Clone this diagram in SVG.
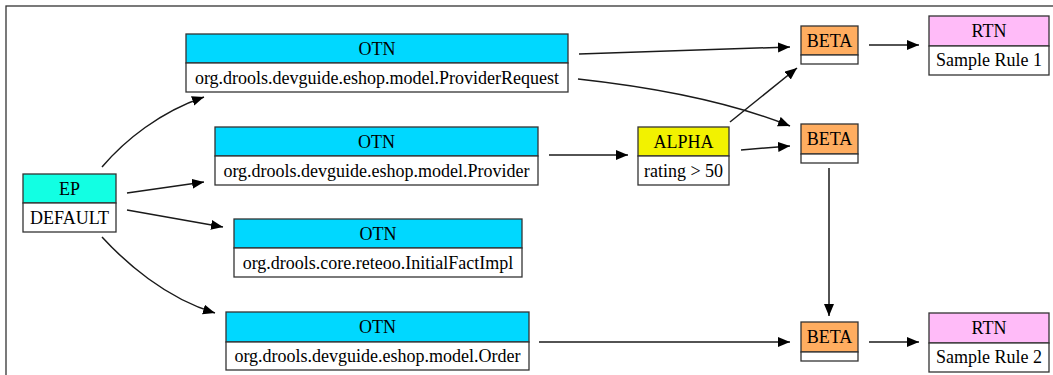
<svg xmlns="http://www.w3.org/2000/svg" width="1053" height="375" viewBox="0 0 1053 375">
<defs>
<marker id="arr" markerUnits="userSpaceOnUse" markerWidth="13" markerHeight="11" refX="12" refY="5" orient="auto">
<path d="M0,0 L12,5 L0,10 z" fill="#000"/>
</marker>
<style>
.box{stroke:#333;stroke-width:1.3}
.low{fill:#fff}
.otn{fill:#00d8ff}
.ep{fill:#12ffe3}
.al{fill:#f2f200}
.be{fill:#ffad60}
.rt{fill:#ffbbf8}
text{font-family:'Liberation Serif','Times New Roman',serif;font-size:18px;fill:#000;text-anchor:middle}
.e{fill:none;stroke:#1a1a1a;stroke-width:1.5;marker-end:url(#arr)}
</style>
</defs>
<rect width="1053" height="375" fill="#fff"/>
<rect x="6" y="6" width="1100" height="420" fill="none" stroke="#333" stroke-width="1.3"/>

<g id="connectors">
<path class="e" d="M102,167 C125,140 160,112 204,97"/>
<path class="e" d="M127,193 L204,182"/>
<path class="e" d="M127,210 L223,227"/>
<path class="e" d="M102,237 C125,262 165,298 215,313"/>
<path class="e" d="M579,54 L790,47"/>
<path class="e" d="M578,79 C660,88 730,102 790,126"/>
<path class="e" d="M549,155 L628,155"/>
<path class="e" d="M730,122 L797,68"/>
<path class="e" d="M741,150 L790,146"/>
<path class="e" d="M869,45 L919,45"/>
<path class="e" d="M829,168 L829,316"/>
<path class="e" d="M539,342 L790,342"/>
<path class="e" d="M869,342 L919,342"/>
</g>

<g id="ep">
<rect class="box ep" x="23" y="174" width="93" height="29"/>
<rect class="box low" x="23" y="203" width="93" height="29"/>
<text x="69.5" y="195">EP</text>
<text x="69.5" y="224">DEFAULT</text>
</g>

<g id="otn1">
<rect class="box otn" x="186" y="34" width="382" height="29"/>
<rect class="box low" x="186" y="63" width="382" height="29"/>
<text x="377" y="55">OTN</text>
<text x="377" y="84">org.drools.devguide.eshop.model.ProviderRequest</text>
</g>

<g id="otn2">
<rect class="box otn" x="215" y="127" width="323" height="29"/>
<rect class="box low" x="215" y="156" width="323" height="29"/>
<text x="376.5" y="148">OTN</text>
<text x="376.5" y="177">org.drools.devguide.eshop.model.Provider</text>
</g>

<g id="otn3">
<rect class="box otn" x="234" y="219" width="288" height="29"/>
<rect class="box low" x="234" y="248" width="288" height="29"/>
<text x="378" y="240">OTN</text>
<text x="378" y="269">org.drools.core.reteoo.InitialFactImpl</text>
</g>

<g id="otn4">
<rect class="box otn" x="226" y="312" width="303" height="30"/>
<rect class="box low" x="226" y="342" width="303" height="28"/>
<text x="377.5" y="333">OTN</text>
<text x="377.5" y="362">org.drools.devguide.eshop.model.Order</text>
</g>

<g id="alpha">
<rect class="box al" x="638" y="127" width="91" height="29"/>
<rect class="box low" x="638" y="156" width="91" height="29"/>
<text x="683.5" y="148">ALPHA</text>
<text x="683.5" y="177">rating &gt; 50</text>
</g>

<g id="beta1">
<rect class="box be" x="801" y="26" width="57" height="29"/>
<rect class="box low" x="801" y="55" width="57" height="9"/>
<text x="829.5" y="47">BETA</text>
</g>

<g id="beta2">
<rect class="box be" x="801" y="124" width="57" height="30"/>
<rect class="box low" x="801" y="154" width="57" height="9"/>
<text x="829.5" y="145">BETA</text>
</g>

<g id="beta3">
<rect class="box be" x="801" y="322" width="57" height="30"/>
<rect class="box low" x="801" y="352" width="57" height="9"/>
<text x="829.5" y="343">BETA</text>
</g>

<g id="rtn1">
<rect class="box rt" x="929" y="16" width="120" height="30"/>
<rect class="box low" x="929" y="46" width="120" height="29"/>
<text x="989" y="37">RTN</text>
<text x="989" y="66">Sample Rule 1</text>
</g>

<g id="rtn2">
<rect class="box rt" x="929" y="313" width="120" height="30"/>
<rect class="box low" x="929" y="343" width="120" height="29"/>
<text x="989" y="334">RTN</text>
<text x="989" y="363">Sample Rule 2</text>
</g>
</svg>
